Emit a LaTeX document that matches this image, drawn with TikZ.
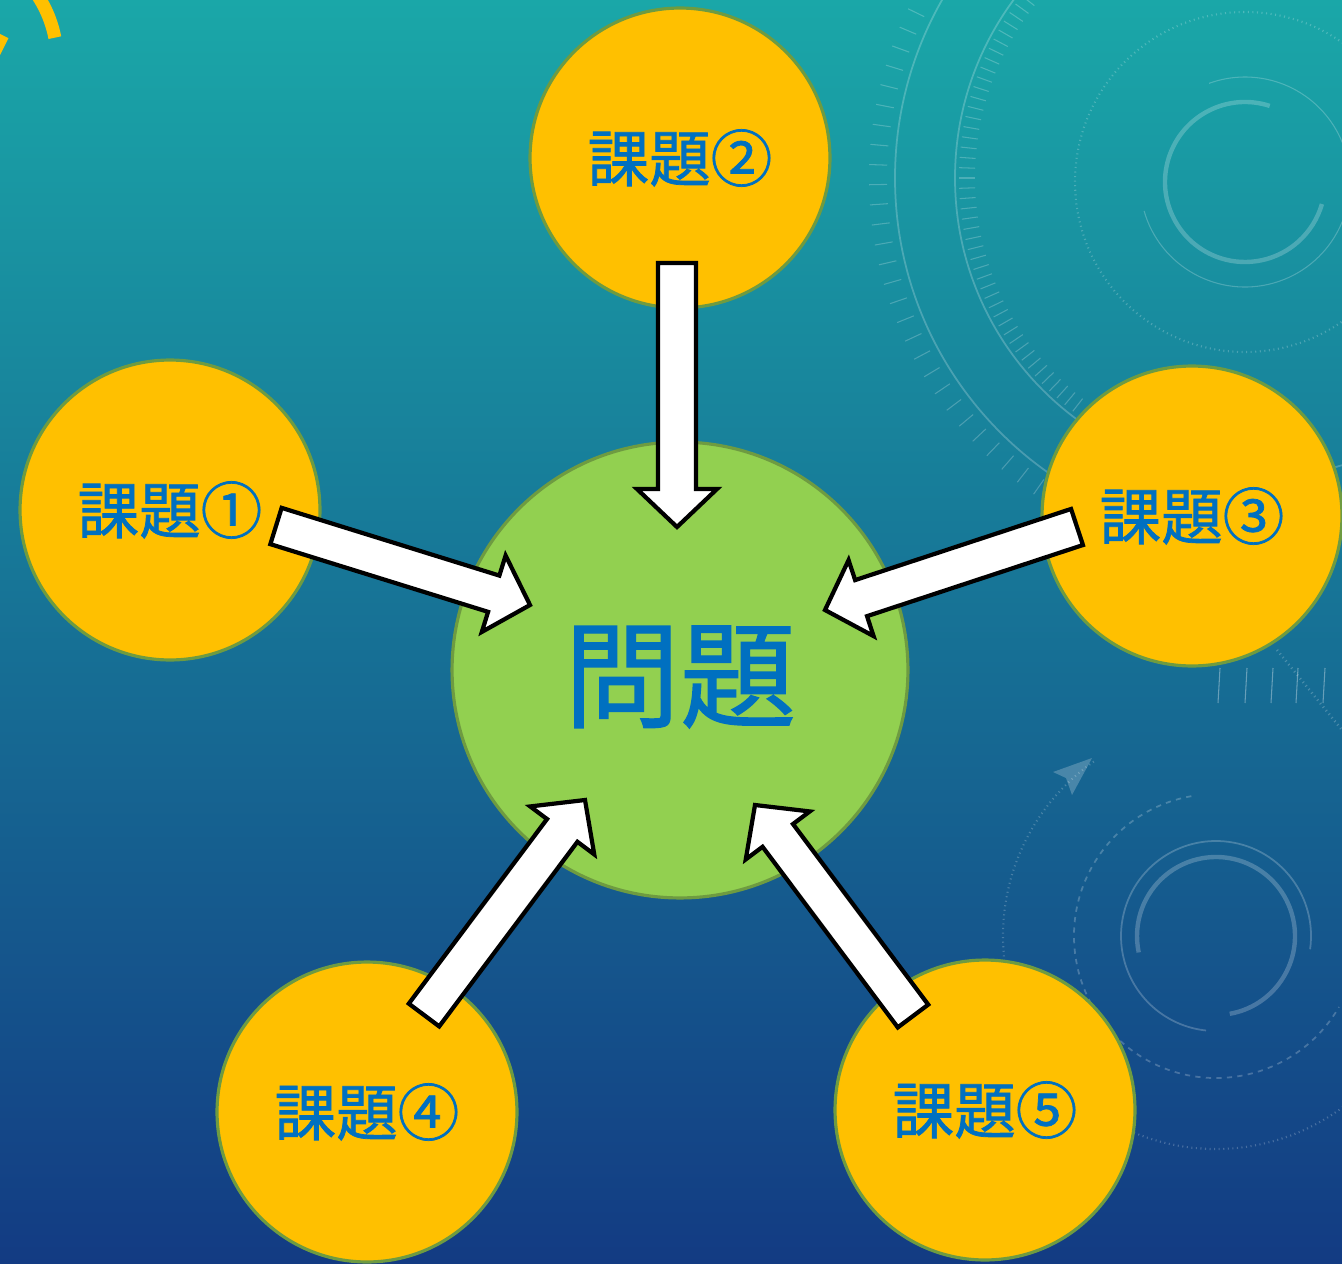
\documentclass[tikz,border=0pt]{standalone}
\usepackage{fontspec}
\newfontfamily\jpfont{Noto Sans CJK JP}[FakeBold=1.2]
\usetikzlibrary{calc}

\definecolor{bgtop}{HTML}{1AA7A8}
\definecolor{bgmid}{HTML}{166F9B}
\definecolor{bgbot}{HTML}{133B83}
\definecolor{kadai}{HTML}{FFC000}
\definecolor{mondai}{HTML}{92D050}
\definecolor{rim}{HTML}{6E9B41}
\definecolor{moji}{HTML}{0070C0}

\tikzset{
  kadaibox/.style={circle, fill=kadai, draw=rim, line width=1.8pt, minimum size=6cm,
    inner sep=0pt, text=moji, font=\jpfont\fontsize{35pt}{35pt}\selectfont},
  mondaibox/.style={circle, fill=mondai, draw=rim, line width=1.8pt, minimum size=9.12cm,
    inner sep=0pt},
  mondaimoji/.style={text=moji, inner sep=0pt, font=\jpfont\fontsize{66pt}{66pt}\selectfont},
  yajirushi/.style={draw=black, fill=white, line width=2.4pt, line join=miter},
  hud/.style={white, opacity=0.22, line width=0.6pt},
}

% 白い太矢印 (#1 尾, #2 先端)
\newcommand{\futoya}[2]{%
  \coordinate (h) at ($(#2)!0.76cm!(#1)$);
  \draw[yajirushi] ($(#1)!0.38cm!90:(#2)$) -- ($(h)!0.38cm!90:(#2)$)
    -- ($(h)!0.8cm!90:(#2)$) -- (#2) -- ($(h)!0.8cm!-90:(#2)$)
    -- ($(h)!0.38cm!-90:(#2)$) -- ($(#1)!0.38cm!-90:(#2)$) -- cycle;
}

\begin{document}
\begin{tikzpicture}[x=0.02cm, y=-0.02cm]
    \useasboundingbox (0,0) rectangle (1342,1264);
    \clip (0,0) rectangle (1342,1264);

    % 背景
    \fill[top color=bgtop, middle color=bgmid, bottom color=bgbot] (0,0) rectangle (1342,1264);

    % 右上の飾り
    \coordinate (hudA) at (1245,182);
    \coordinate (hudB) at (1255,178);
    \draw[hud, line width=2.5pt] (hudA) ++(-72:80) arc[start angle=-72, end angle=-344, radius=80];
    \draw[hud] (hudA) ++(164:105) arc[start angle=164, end angle=-110, radius=105];
    \draw[hud, dotted, line width=1.2pt] (hudA) circle[radius=170];
    \draw[hud, line width=1pt] (hudB) circle[radius=360];
    \draw[hud, line width=1pt] (hudB) circle[radius=300];
    \foreach \a in {140,142,...,236} {
        \draw[hud] (hudB) ++(-\a:280) -- ++(-\a:16);
    }
    \foreach \a in {118,121,...,241} {
        \draw[hud] (hudB) ++(-\a:368) -- ++(-\a:18);
    }

    % 右下の飾り
    \coordinate (hudC) at (1216,936);
    \draw[hud, line width=2.5pt] (hudC) ++(80:79) arc[start angle=80, end angle=-192, radius=79];
    \draw[hud, line width=1pt] (hudC) ++(8:95) arc[start angle=8, end angle=-264, radius=95];
    \draw[hud, dashed, line width=1pt] (hudC) ++(-100:142) arc[start angle=-100, end angle=-330, radius=142];
    \draw[hud, dotted, line width=1.2pt] (hudC) ++(-125:213) arc[start angle=-125, end angle=-190, radius=213];
    \draw[hud, dotted, line width=1.2pt] (hudC) ++(-240:213) arc[start angle=-240, end angle=-330, radius=213];
    \fill[white, opacity=0.22] (1092,758) -- (1053,772) -- (1066,778) -- (1072,795) -- cycle;
    \foreach \x in {1220,1247,1273,1298,1325} {
        \draw[hud, opacity=0.35] (\x,668) -- (\x-2,703);
    }
    \draw[hud, dotted, line width=1.5pt] (1277,650) -- (1342,730);

    % 左上の黄色い弧
    \draw[kadai, line width=0.26cm] (-60,60) ++(-11:117) arc[start angle=-11, end angle=-40, radius=117];
    \draw[kadai, line width=0.2cm] (4,36) -- (-6,56);

    % 丸
    \node[kadaibox] (k2) at (680,158) {課題②};
    \node[kadaibox] (k1) at (170,510) {課題①};
    \node[kadaibox] (k3) at (1192,516) {課題③};
    \node[kadaibox] (k4) at (367,1112) {課題④};
    \node[kadaibox] (k5) at (985,1110) {課題⑤};
    \node[mondaibox] (m) at (680,670) {};
    \node[mondaimoji] (mlabel) at (680,677) {問題};

    % 矢印の端点
    \coordinate (t1) at (276,526);  \coordinate (p1) at (530,605);
    \coordinate (t2) at (677,263);  \coordinate (p2) at (677,527);
    \coordinate (t3) at (1077,527); \coordinate (p3) at (825,610);
    \coordinate (t4) at (424,1015); \coordinate (p4) at (585,800);
    \coordinate (t5) at (913,1016); \coordinate (p5) at (755,805);

    % 矢印
    \futoya{t1}{p1}
    \futoya{t2}{p2}
    \futoya{t3}{p3}
    \futoya{t4}{p4}
    \futoya{t5}{p5}

\end{tikzpicture}
\end{document}
